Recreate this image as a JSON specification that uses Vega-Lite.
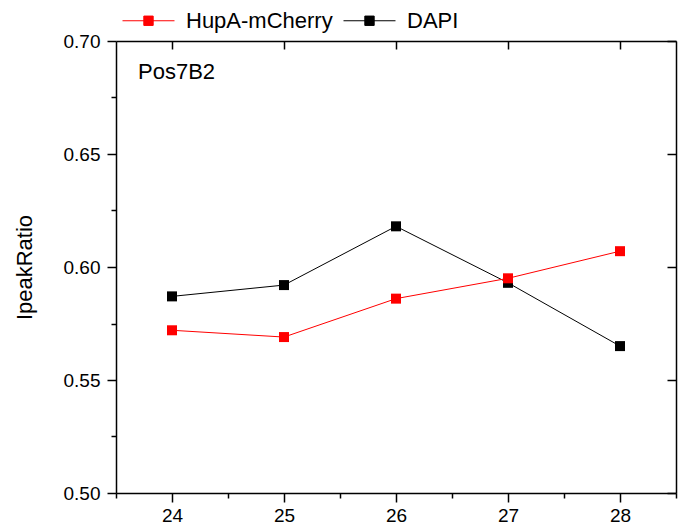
{
  "$schema": "https://vega.github.io/schema/vega-lite/v6.json",
  "autosize": {"type": "none"},
  "padding": {"left": 116, "top": 41, "right": 8, "bottom": 34},
  "width": 560,
  "height": 452,
  "background": "white",
  "title": {
    "text": "Pos7B2",
    "orient": "top",
    "anchor": "start",
    "frame": "group",
    "font": "Liberation Sans",
    "fontSize": 22,
    "fontWeight": "normal",
    "color": "black",
    "baseline": "alphabetic",
    "offset": 0,
    "dx": 22,
    "dy": 107
  },
  "data": {
    "values": [
      {"pos": 24, "ratio": 0.587, "channel": "DAPI"},
      {"pos": 25, "ratio": 0.592, "channel": "DAPI"},
      {"pos": 26, "ratio": 0.618, "channel": "DAPI"},
      {"pos": 27, "ratio": 0.593, "channel": "DAPI"},
      {"pos": 28, "ratio": 0.565, "channel": "DAPI"},
      {"pos": 24, "ratio": 0.572, "channel": "HupA-mCherry"},
      {"pos": 25, "ratio": 0.569, "channel": "HupA-mCherry"},
      {"pos": 26, "ratio": 0.586, "channel": "HupA-mCherry"},
      {"pos": 27, "ratio": 0.595, "channel": "HupA-mCherry"},
      {"pos": 28, "ratio": 0.607, "channel": "HupA-mCherry"}
    ]
  },
  "layer": [
    {
      "mark": {"type": "line", "strokeWidth": 1},
      "encoding": {
        "x": {
          "field": "pos", "type": "quantitative",
          "scale": {"domain": [23.5, 28.5], "nice": false, "zero": false},
          "axis": {
            "orient": "bottom",
            "title": null,
            "values": [23.5, 24, 24.5, 25, 25.5, 26, 26.5, 27, 27.5, 28, 28.5],
            "labelExpr": "datum.value % 1 === 0 ? format(datum.value, 'd') : ''",
            "tickSize": {"condition": {"test": "datum.value % 1 === 0", "value": 9}, "value": 5},
            "labelPadding": 4,
            "labelOverlap": false,
            "labelFlush": false
          }
        },
        "y": {
          "field": "ratio", "type": "quantitative",
          "scale": {"domain": [0.5, 0.7], "nice": false, "zero": false},
          "axis": {
            "orient": "left",
            "title": "IpeakRatio",
            "values": [0.5, 0.525, 0.55, 0.575, 0.6, 0.625, 0.65, 0.675, 0.7],
            "labelExpr": "round(datum.value * 1000) % 50 === 0 ? format(datum.value, '.2f') : ''",
            "tickSize": {"condition": {"test": "round(datum.value * 1000) % 50 === 0", "value": 9}, "value": 5},
            "labelPadding": 7,
            "labelOverlap": false,
            "labelFlush": false,
            "titlePadding": 27,
            "titleFontSize": 22,
            "titleFont": "Liberation Sans",
            "titleFontWeight": "normal",
            "titleColor": "black"
          }
        },
        "color": {
          "field": "channel", "type": "nominal",
          "scale": {"domain": ["HupA-mCherry", "DAPI"], "range": ["#ff0000", "#000000"]},
          "legend": {
            "title": null,
            "orient": "none",
            "direction": "horizontal",
            "legendX": 6,
            "legendY": -47,
            "padding": 0,
            "columnPadding": 8,
            "labelOffset": 11,
            "labelFont": "Liberation Sans",
            "labelFontSize": 22,
            "labelColor": "black",
            "labelLimit": 400,
            "symbolType": "M-1,0H1M-0.18,-0.18H0.18V0.18H-0.18Z",
            "symbolSize": 2704,
            "symbolStrokeWidth": 1,
            "symbolOpacity": 1,
            "encode": {
              "symbols": {
                "update": {
                  "fill": {"scale": "color", "field": "value"},
                  "stroke": {"scale": "color", "field": "value"},
                  "opacity": {"value": 1},
                  "fillOpacity": {"value": 1},
                  "strokeOpacity": {"value": 1}
                }
              }
            }
          }
        }
      }
    },
    {
      "mark": {"type": "point", "shape": "square", "filled": true, "size": 100, "opacity": 1},
      "encoding": {
        "x": {
          "field": "pos", "type": "quantitative",
          "axis": {
            "orient": "top",
            "title": null,
            "values": [24, 25, 26, 27, 28],
            "labels": false,
            "tickSize": -8
          }
        },
        "y": {
          "field": "ratio", "type": "quantitative",
          "axis": {
            "orient": "right",
            "title": null,
            "values": [0.5, 0.55, 0.6, 0.65, 0.7],
            "labels": false,
            "tickSize": -9
          }
        },
        "color": {"field": "channel", "type": "nominal"}
      }
    }
  ],
  "resolve": {"axis": {"x": "independent", "y": "independent"}},
  "config": {
    "view": {"stroke": null},
    "axis": {
      "grid": false,
      "domainColor": "black",
      "domainWidth": 1.5,
      "tickColor": "black",
      "tickWidth": 1.5,
      "labelFont": "Liberation Sans",
      "labelFontSize": 19,
      "labelColor": "black"
    }
  }
}
